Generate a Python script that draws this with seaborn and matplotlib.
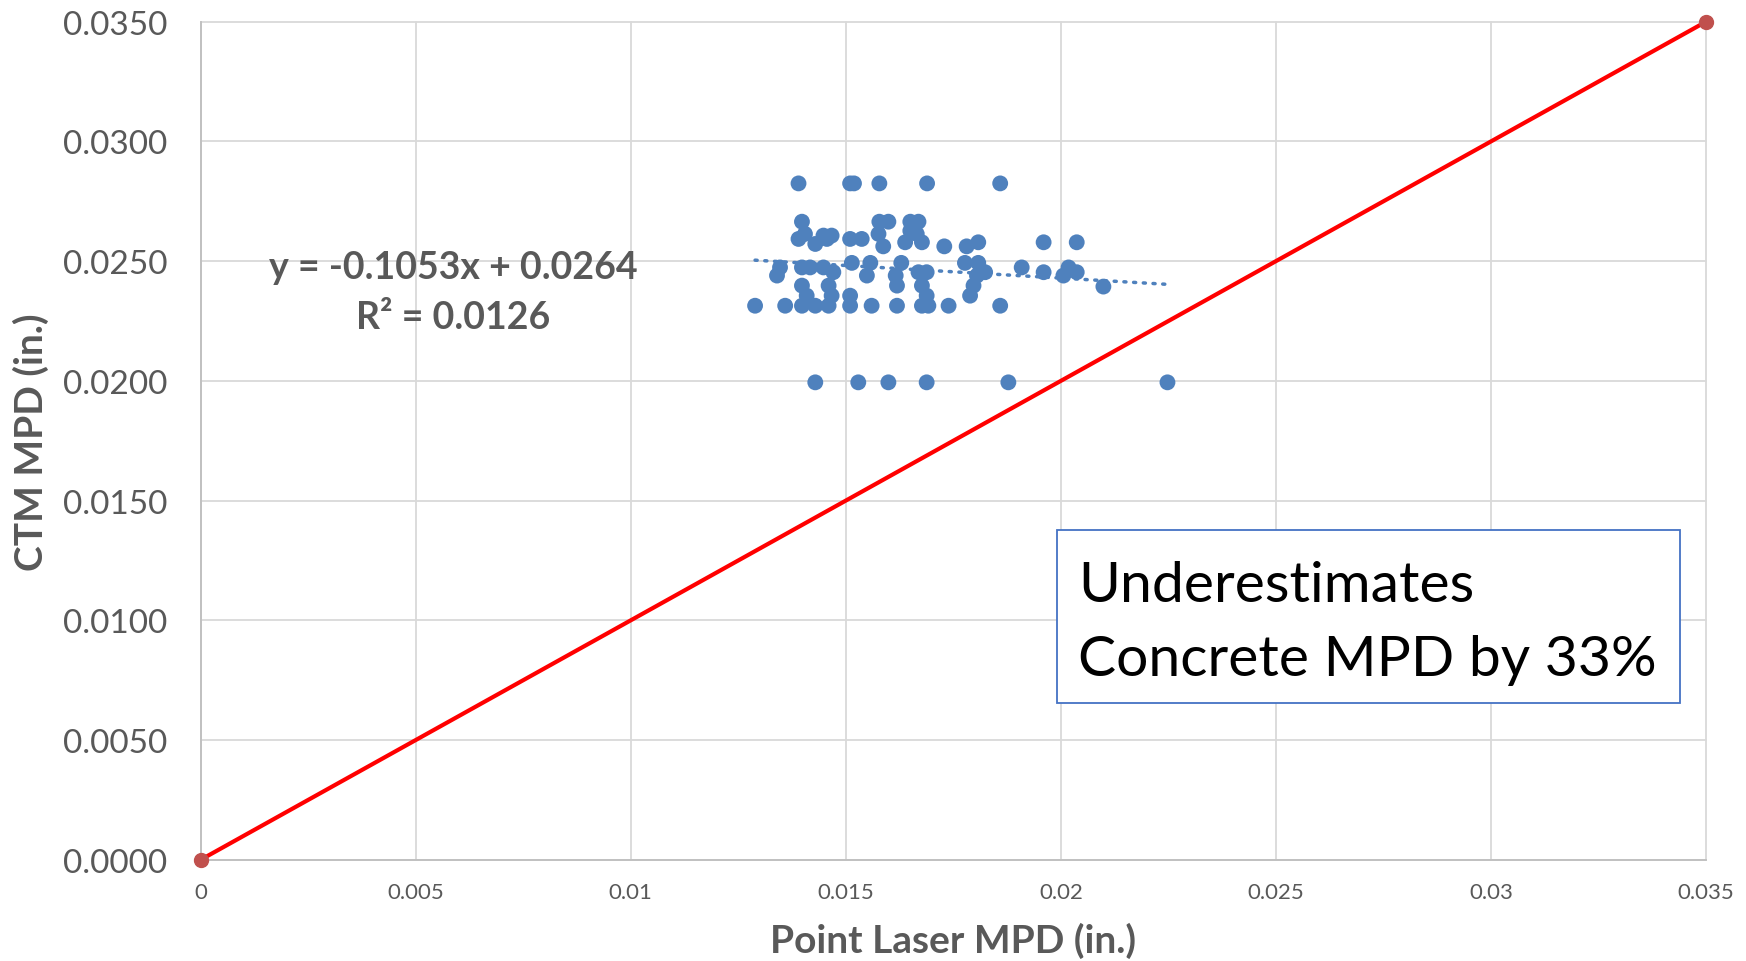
import numpy as np
import pandas as pd
import matplotlib
matplotlib.use("Agg")
import matplotlib.pyplot as plt
from matplotlib.patches import Rectangle
import seaborn as sns

# ---------------- data ----------------
laser_mpd = [
    # y ~ 0.0282
    0.01390, 0.01510, 0.01519, 0.01578, 0.01689, 0.01859,
    # y ~ 0.0266
    0.01398, 0.01578, 0.01599, 0.01650, 0.01669,
    # y ~ 0.0261
    0.01405, 0.01448, 0.01467, 0.01576, 0.01650, 0.01665,
    # y ~ 0.0258
    0.01390, 0.01429, 0.01456, 0.01510, 0.01537, 0.01587, 0.01638, 0.01677,
    0.01729, 0.01781, 0.01808, 0.01960, 0.02037,
    # y ~ 0.0245-0.0249
    0.01347, 0.01340, 0.01398, 0.01417, 0.01448, 0.01471, 0.01514, 0.01557,
    0.01549, 0.01629, 0.01616, 0.01669, 0.01688, 0.01777, 0.01808, 0.01805,
    0.01824, 0.01909, 0.01960, 0.02006, 0.02018, 0.02037,
    # y ~ 0.0236-0.0240
    0.01398, 0.01409, 0.01460, 0.01467, 0.01510, 0.01619, 0.01677, 0.01688,
    0.01797, 0.01789, 0.02099,
    # y ~ 0.0231
    0.01289, 0.01359, 0.01398, 0.01429, 0.01460, 0.01510, 0.01560, 0.01619,
    0.01677, 0.01692, 0.01739, 0.01859,
    # y ~ 0.0200
    0.01429, 0.01529, 0.01599, 0.01688, 0.01878, 0.02248,
]
ctm_mpd = (
    [0.02825] * 6
    + [0.02665] * 5
    + [0.02614, 0.02607, 0.02607, 0.02614, 0.02627, 0.02614]
    + [0.02593, 0.02572, 0.02593, 0.02593, 0.02593, 0.02562, 0.02579, 0.02579,
       0.02562, 0.02562, 0.02579, 0.02579, 0.02579]
    + [0.02474, 0.02440, 0.02474, 0.02474, 0.02474, 0.02454, 0.02493, 0.02493,
       0.02440, 0.02493, 0.02440, 0.02454, 0.02454, 0.02493, 0.02493, 0.02440,
       0.02454, 0.02474, 0.02454, 0.02440, 0.02474, 0.02454]
    + [0.02398, 0.02356, 0.02398, 0.02356, 0.02356, 0.02398, 0.02398, 0.02356,
       0.02398, 0.02356, 0.02394]
    + [0.02314] * 12
    + [0.01994] * 6
)

trend_slope = -0.1053
trend_intercept = 0.0264
trend_label = "y = -0.1053x + 0.0264\nR² = 0.0126"

equality_x = [0.0, 0.035]
equality_y = [0.0, 0.035]

x_ticks = [0, 0.005, 0.01, 0.015, 0.02, 0.025, 0.03, 0.035]
x_tick_labels = ["0", "0.005", "0.01", "0.015", "0.02", "0.025", "0.03", "0.035"]
y_ticks = [0.0, 0.005, 0.010, 0.015, 0.020, 0.025, 0.030, 0.035]
y_tick_labels = ["0.0000", "0.0050", "0.0100", "0.0150", "0.0200", "0.0250", "0.0300", "0.0350"]

x_label = "Point Laser MPD (in.)"
y_label = "CTM MPD (in.)"
box_text = "Underestimates\nConcrete MPD by 33%"

# ---------------- plot ----------------
sns.set_theme(style="white")
plt.rcParams["font.family"] = ["Lato", "DejaVu Sans"]

fig = plt.figure(figsize=(17.46, 9.62), dpi=100)
ax = fig.add_axes([0.115, 0.1053, 0.862, 0.871])

df = pd.DataFrame({"laser": laser_mpd, "ctm": ctm_mpd})

# equality line
ax.plot(equality_x, equality_y, color="#FF0000", lw=3, zorder=3,
        marker="o", markersize=10, markerfacecolor="#C0504D",
        markeredgecolor="#C0504D", clip_on=False)

# scatter
sns.scatterplot(data=df, x="laser", y="ctm", ax=ax, color="#4F81BD",
                s=130, edgecolor="none", zorder=4)

# trend line
tx = np.array([min(laser_mpd), max(laser_mpd)])
ax.plot(tx, trend_slope * tx + trend_intercept, color="#4F81BD", lw=2.5,
        ls=(0, (0.6, 2.2)), dash_capstyle="round", zorder=5)

gray = "#595959"
ax.text(0.00587, 0.02371, trend_label, ha="center", va="center",
        fontsize=27, fontweight="bold", color=gray, linespacing=1.6)

# annotation box
ax.add_patch(Rectangle((0.01991, 0.00655), 0.03440 - 0.01991, 0.01377 - 0.00655,
                       facecolor="white", edgecolor="#4472C4", lw=1.3, zorder=6))
ax.text(0.02040, 0.00991, box_text, ha="left", va="center", fontsize=41,
        color="black", linespacing=1.57, zorder=7)

ax.set_xlim(0, 0.035)
ax.set_ylim(0, 0.035)
ax.set_xticks(x_ticks)
ax.set_xticklabels(x_tick_labels)
ax.set_yticks(y_ticks)
ax.set_yticklabels(y_tick_labels)
ax.tick_params(axis="x", labelsize=16, colors=gray, length=0, pad=16)
ax.tick_params(axis="y", labelsize=24, colors=gray, length=0, pad=24)

ax.grid(True, color="#D9D9D9", lw=1.3)
ax.set_axisbelow(True)
for s in ["top", "right"]:
    ax.spines[s].set_visible(False)
for s in ["left", "bottom"]:
    ax.spines[s].set_color("#BFBFBF")
    ax.spines[s].set_linewidth(1.3)
for gl in ax.get_xgridlines() + ax.get_ygridlines():
    gl.set_clip_on(False)

ax.set_xlabel(x_label, fontsize=28, fontweight="bold", color=gray, labelpad=14)
ax.set_ylabel(y_label, fontsize=28, fontweight="bold", color=gray, labelpad=10)

fig.savefig("out.png", dpi=100)
